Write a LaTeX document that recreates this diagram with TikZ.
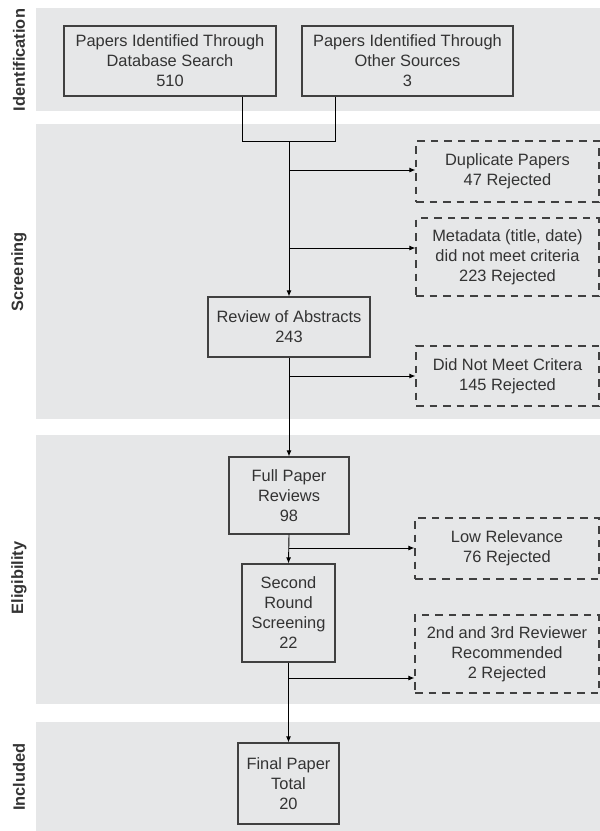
\documentclass[tikz,border=0pt]{standalone}
\usepackage{fontspec}
\setmainfont{Liberation Sans}
\usetikzlibrary{arrows.meta}
\definecolor{bandgray}{HTML}{E6E7E8}
\definecolor{ink}{HTML}{333333}
\definecolor{edge}{HTML}{404040}
\tikzset{
  stagelabel/.style={rotate=90,text=ink,font=\fontsize{16.4}{20}\selectfont\bfseries},
  box/.style={draw=edge,line width=1.2pt,fill=bandgray,align=center,inner sep=0pt,
    text=ink,font=\fontsize{16.4}{20}\selectfont},
  reject/.style={box,dash pattern=on 7.5pt off 6pt},
  flow/.style={line width=0.9pt,draw=black},
  arr/.style={flow,-{Latex[length=6pt,width=5pt]}}
}
\begin{document}
\begin{tikzpicture}[x=1pt,y=-1pt]
    \useasboundingbox (0,0) rectangle (600,831);
    % stage bands
    \fill[bandgray] (36,8) rectangle (600,111);
    \fill[bandgray] (36,124) rectangle (600,419);
    \fill[bandgray] (36,435) rectangle (600,704);
    \fill[bandgray] (36,722) rectangle (600,831);
    \node[stagelabel] (lident) at (19,60) {Identification};
    \node[stagelabel] (lscreen) at (19,272) {Screening};
    \node[stagelabel] (lelig) at (19,578) {Eligibility};
    \node[stagelabel] (lincl) at (19,777) {Included};
    % main boxes
    \node[box,minimum width=212pt,minimum height=70pt] (dbsearch) at (170,61) {Papers Identified Through\\Database Search\\510};
    \node[box,minimum width=211pt,minimum height=70pt] (othersrc) at (407.5,61) {Papers Identified Through\\Other Sources\\3};
    \node[box,minimum width=162pt,minimum height=60pt] (abstracts) at (289,327) {Review of Abstracts\\243};
    \node[box,minimum width=120pt,minimum height=77pt] (fullrev) at (289,495.5) {Full Paper\\Reviews\\98};
    \node[box,minimum width=93pt,minimum height=98pt] (second) at (288.5,613) {Second\\Round\\Screening\\22};
    \node[box,minimum width=101pt,minimum height=81pt] (final) at (288.5,783.5) {Final Paper\\Total\\20};
    % rejected boxes
    \node[reject,minimum width=183pt,minimum height=61pt] (dup) at (507.5,171.5) {Duplicate Papers\\47 Rejected};
    \node[reject,minimum width=183pt,minimum height=78pt] (meta) at (507.5,257) {Metadata (title, date)\\did not meet criteria\\223 Rejected};
    \node[reject,minimum width=183pt,minimum height=60pt] (notmeet) at (507.5,376) {Did Not Meet Critera\\145 Rejected};
    \node[reject,minimum width=184pt,minimum height=61pt] (lowrel) at (507,548.5) {Low Relevance\\76 Rejected};
    \node[reject,minimum width=184pt,minimum height=78pt] (reviewers) at (507,654) {2nd and 3rd Reviewer\\Recommended\\2 Rejected};
    % trunk points
    \coordinate (jl) at (242,141);
    \coordinate (jr) at (335,141);
    \coordinate (join) at (289,141);
    \coordinate (b1) at (289,170);
    \coordinate (b2) at (289,248);
    \coordinate (b3) at (289,376);
    \coordinate (b4) at (289,548);
    \coordinate (b5) at (289,678);
    \draw[flow] (jl |- dbsearch.south) -- (jl) -- (jr) -- (jr |- othersrc.south);
    \draw[arr] (join) -- (abstracts.north);
    \draw[arr] (abstracts.south) -- (fullrev.north);
    \draw[arr] (fullrev.south) -- (second.north);
    \draw[arr] (second.south) -- (final.north);
    \draw[arr] (b1) -- (b1 -| dup.west);
    \draw[arr] (b2) -- (b2 -| meta.west);
    \draw[arr] (b3) -- (b3 -| notmeet.west);
    \draw[arr] (b4) -- (b4 -| lowrel.west);
    \draw[arr] (b5) -- (b5 -| reviewers.west);
\end{tikzpicture}
\end{document}
